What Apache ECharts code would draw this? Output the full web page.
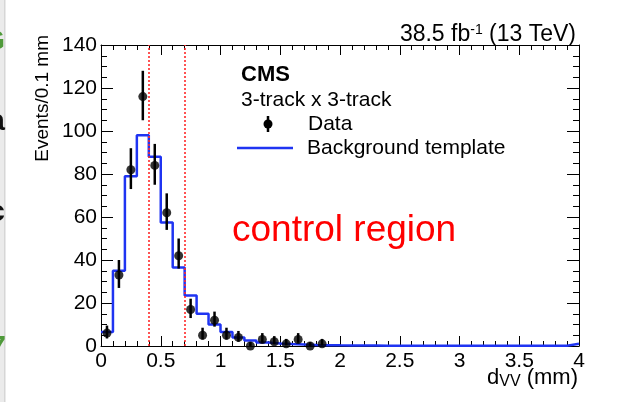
<!DOCTYPE html>
<html>
<head>
<meta charset="utf-8">
<script src="https://cdn.jsdelivr.net/npm/echarts@6/dist/echarts.min.js"></script>
<style>
  html, body { margin: 0; padding: 0; background: #ffffff; }
  #chart { width: 621px; height: 402px; }
</style>
</head>
<body>
<div id="chart"></div>
<script>
// d_VV histogram, 3-track x 3-track vertices, 0.1 mm bins from 0 to 4 mm
const binWidth = 0.1;
const xMin = 0, xMax = 4;

// Background template, one value per 0.1 mm bin
const bkgValues = [
  6.5, 35, 79, 98, 88, 57.5, 36.5, 23.5, 15, 10,
  6.5, 4, 2.6, 1.6, 1.2, 0.9, 0.7, 0.5, 0.4, 0.3,
  0.25, 0.2, 0.2, 0.15, 0.15, 0.1, 0.1, 0.1, 0.1, 0.1,
  0.1, 0.1, 0.1, 0.1, 0.1, 0.1, 0.1, 0.1, 0.1, 1.0
];

// Observed events per bin (first 19 bins) and their error-bar ends
const dataValues = [6, 33, 82, 116, 84, 62, 42, 17, 5, 12, 5, 4, 0, 3, 2, 1, 3, 0, 1];
const dataLow    = [3.5, 27, 73, 105, 75, 54, 36, 13, 3, 9, 3, 2, 0, 1.5, 0.8, 0.3, 1.5, 0, 0.3];
const dataHigh   = [9.5, 40, 92, 128, 94, 71, 50, 22, 8.5, 16, 8.5, 7, 1.8, 6, 4.6, 3.3, 6, 1.8, 3.3];

// Control-region boundaries (mm)
const regionEdges = [0.4, 0.7];

// Axis ticks
const xTickStep = 0.5;
const yTickStep = 20;
const yMax = 140;

const FONT = '"Liberation Sans", Arial, Helvetica, sans-serif';

const bkgLine = bkgValues.map((v, i) => [i * binWidth, v]);
bkgLine.push([xMax, bkgValues[bkgValues.length - 1]]);

const points = dataValues.map((v, i) => [(i + 0.5) * binWidth, v]);
const bars = dataValues.map((v, i) => [(i + 0.5) * binWidth, dataLow[i], dataHigh[i]]);

const chart = echarts.init(document.getElementById('chart'), null, { renderer: 'canvas' });

const axisText = { fontFamily: FONT, fontSize: 21, color: '#000' };

function xAxisDef(pos, labels) {
  return {
    type: 'value', position: pos, min: xMin, max: xMax, interval: xTickStep,
    axisLine: { show: true, onZero: false, lineStyle: { color: '#000', width: 1 } },
    axisTick: { show: true, inside: true, length: 10, lineStyle: { color: '#000', width: 1 } },
    minorTick: { show: true, splitNumber: 5, length: 5, lineStyle: { color: '#000', width: 1 } },
    splitLine: { show: false },
    axisLabel: Object.assign({ show: labels, margin: 5 }, axisText)
  };
}
function yAxisDef(pos, labels) {
  return {
    type: 'value', position: pos, min: 0, max: yMax, interval: yTickStep,
    axisLine: { show: true, onZero: false, lineStyle: { color: '#000', width: 1 } },
    axisTick: { show: true, inside: true, length: 12, lineStyle: { color: '#000', width: 1 } },
    minorTick: { show: true, splitNumber: 4, length: 6, lineStyle: { color: '#000', width: 1 } },
    splitLine: { show: false },
    axisLabel: Object.assign({ show: labels, margin: 4 }, axisText)
  };
}

const option = {
  backgroundColor: '#ffffff',
  animation: false,
  grid: { left: 101, right: 42, top: 45, bottom: 56, containLabel: false },
  xAxis: [xAxisDef('bottom', true), xAxisDef('top', false)],
  yAxis: [yAxisDef('left', true), yAxisDef('right', false)],
  series: [
    {
      name: 'Background template',
      type: 'line',
      step: 'end',
      data: bkgLine,
      showSymbol: false,
      symbol: 'none',
      lineStyle: { color: '#1f34f2', width: 2.5 },
      z: 3,
      markLine: {
        silent: true,
        symbol: ['none', 'none'],
        label: { show: false },
        lineStyle: { color: '#ff2a2a', type: [2, 2], width: 1.6 },
        data: regionEdges.map(x => ({ xAxis: x }))
      }
    },
    {
      name: 'Data errors',
      type: 'custom',
      data: bars,
      z: 4,
      renderItem: function (params, api) {
        const x = api.value(0);
        const lo = api.coord([x, api.value(1)]);
        const hi = api.coord([x, api.value(2)]);
        return {
          type: 'line',
          shape: { x1: lo[0], y1: lo[1], x2: hi[0], y2: hi[1] },
          style: { stroke: '#000', lineWidth: 2.5 }
        };
      }
    },
    {
      name: 'Data',
      type: 'scatter',
      data: points,
      symbol: 'circle',
      symbolSize: 9,
      itemStyle: { color: '#000' },
      z: 5
    }
  ],
  graphic: [
    // slide edge at the far left
    { type: 'rect', shape: { x: 0, y: 0, width: 5, height: 402 }, style: { fill: '#ebebeb' }, z: 1 },
    { type: 'rect', shape: { x: 4, y: 0, width: 1.5, height: 402 }, style: { fill: '#d6d6d6' }, z: 1 },
    { type: 'text', x: 5, y: 42, style: { text: 'G', font: 'bold 30px ' + FONT, fill: '#4f9a3a', align: 'right', verticalAlign: 'middle' }, z: 2 },
    { type: 'text', x: 5, y: 122, style: { text: 'a', font: 'bold 30px ' + FONT, fill: '#111', align: 'right', verticalAlign: 'middle' }, z: 2 },
    { type: 'text', x: 5, y: 213, style: { text: 'c', font: 'bold 30px ' + FONT, fill: '#111', align: 'right', verticalAlign: 'middle' }, z: 2 },
    { type: 'text', x: 6, y: 348, style: { text: '7', font: 'bold 30px ' + FONT, fill: '#4f9a3a', align: 'right', verticalAlign: 'middle' }, z: 2 },

    // luminosity / energy
    {
      type: 'text', x: 576, y: 35,
      style: {
        text: '{a|38.5 fb}{s|-1}{a| (13 TeV)}',
        align: 'right', verticalAlign: 'middle',
        rich: {
          a: { font: '23px ' + FONT, fill: '#000', lineHeight: 24 },
          s: { font: '14px ' + FONT, fill: '#000', lineHeight: 14, verticalAlign: 'top' }
        }
      }
    },
    // experiment label
    { type: 'text', x: 241, y: 75, style: { text: 'CMS', font: 'bold 22px ' + FONT, fill: '#000', align: 'left', verticalAlign: 'middle' } },
    { type: 'text', x: 241, y: 100, style: { text: '3-track x 3-track', font: '21px ' + FONT, fill: '#000', align: 'left', verticalAlign: 'middle' } },

    // legend: data marker
    { type: 'line', shape: { x1: 268, y1: 116, x2: 268, y2: 132 }, style: { stroke: '#000', lineWidth: 2.5 } },
    { type: 'circle', shape: { cx: 268, cy: 124, r: 4.5 }, style: { fill: '#000' } },
    { type: 'text', x: 308, y: 124, style: { text: 'Data', font: '21px ' + FONT, fill: '#000', align: 'left', verticalAlign: 'middle' } },
    // legend: background template
    { type: 'line', shape: { x1: 237, y1: 148, x2: 293, y2: 148 }, style: { stroke: '#1f34f2', lineWidth: 2.5 } },
    { type: 'text', x: 307, y: 148, style: { text: 'Background template', font: '21px ' + FONT, fill: '#000', align: 'left', verticalAlign: 'middle' } },

    // region annotation
    { type: 'text', x: 232, y: 231, style: { text: 'control region', font: '37px ' + FONT, fill: '#ff0000', align: 'left', verticalAlign: 'middle' } },

    // axis titles
    {
      type: 'text', x: 578, y: 378,
      style: {
        text: '{a|d}{s|VV}{a| (mm)}',
        align: 'right', verticalAlign: 'middle',
        rich: {
          a: { font: '22px ' + FONT, fill: '#000', lineHeight: 24 },
          s: { font: '16px ' + FONT, fill: '#000', lineHeight: 16, verticalAlign: 'bottom' }
        }
      }
    },
    {
      type: 'text', x: 43, y: 35, rotation: Math.PI / 2,
      style: { text: 'Events/0.1 mm', font: '19px ' + FONT, fill: '#000', align: 'right', verticalAlign: 'middle' }
    }
  ]
};

chart.setOption(option);
</script>
</body>
</html>
